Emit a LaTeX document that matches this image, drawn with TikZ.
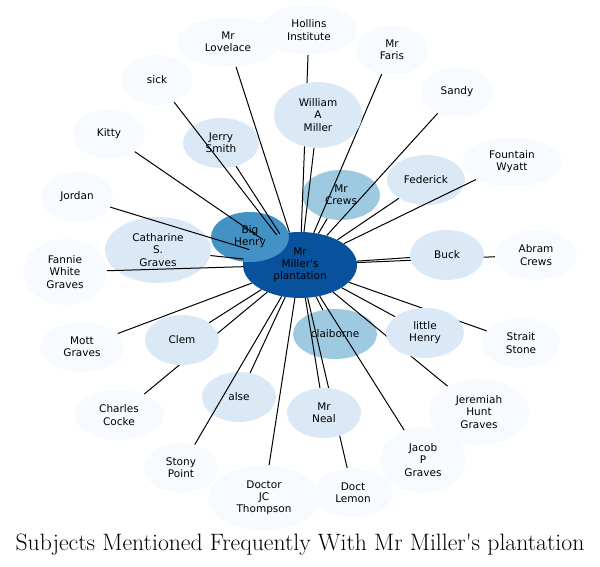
\documentclass[tikz,border=0pt]{standalone}
\usepackage{fontspec}
\setsansfont{DejaVu Sans}
\usepackage{xcolor}
\usepackage{tikz}
\usetikzlibrary{shapes.geometric}
\definecolor{tone0}{HTML}{F7FBFF}
\definecolor{tone1}{HTML}{DBE9F6}
\definecolor{tone2}{HTML}{9ECAE1}
\definecolor{tone3}{HTML}{4292C6}
\definecolor{tone4}{HTML}{08519C}
\pgfdeclarelayer{back}
\pgfdeclarelayer{front}
\pgfsetlayers{back,main,front}
\tikzset{
  subj/.style={ellipse, align=center, inner sep=0pt, text=black,
               font=\sffamily\fontsize{10.5}{12.2}\selectfont,
               minimum width=72pt, minimum height=50pt},
  tall/.style={minimum height=66pt},
  far/.style={subj, fill=tone0},
  near/.style={subj, fill=tone1},
  mid/.style={subj, fill=tone2},
  strong/.style={subj, fill=tone3},
  hub/.style={subj, fill=tone4, minimum width=114pt, minimum height=66pt},
  link/.style={line width=1pt, black}
}

\begin{document}
\begin{tikzpicture}[x=1pt,y=-1pt]
  \useasboundingbox (0,0) rectangle (600,567);
  \begin{pgfonlayer}{back}
  \node[hub] (plant) at (300,265) {Mr\\Miller\textquotesingle s\\plantation};
  \node[far, minimum width=96pt] (hollins) at (309,30) {Hollins\\Institute};
  \node[far, minimum width=102pt] (lovelace) at (228,42) {Mr\\Lovelace};
  \node[far] (faris) at (392,50) {Mr\\Faris};
  \node[far] (sandy) at (457,92) {Sandy};
  \node[far] (sick) at (157,80) {sick};
  \node[near, minimum width=76pt] (jerry) at (221,143) {Jerry\\Smith};
  \node[far] (kitty) at (109,134) {Kitty};
  \node[far] (jordan) at (77,197) {Jordan};
  \node[near, tall, minimum width=106pt] (catharine) at (158,250) {Catharine\\S.\\Graves};
  \node[strong, minimum width=78pt] (bighenry) at (250,237) {Big\\Henry};
  \node[far, tall, minimum width=84pt] (fannie) at (65,272) {Fannie\\White\\Graves};
  \node[mid, minimum width=78pt] (crews) at (341,195) {Mr\\Crews};
  \node[near, minimum width=78pt] (federick) at (426,180) {Federick};
  \node[far, minimum width=100pt] (fountain) at (512,162) {Fountain\\Wyatt};
  \node[far, minimum width=82pt] (abram) at (536,255) {Abram\\Crews};
  \node[far, minimum width=84pt] (mott) at (82,347) {Mott\\Graves};
  \node[far, minimum width=90pt] (charles) at (119,415) {Charles\\Cocke};
  \node[near, minimum width=74pt] (alse) at (239,397) {alse};
  \node[far, minimum width=74pt] (stony) at (181,468) {Stony\\Point};
  \node[far, tall, minimum width=112pt] (thompson) at (264,498) {Doctor\\JC\\Thompson};
  \node[mid, minimum width=84pt] (claiborne) at (335,334) {claiborne};
  \node[far, minimum width=78pt] (strait) at (521,343) {Strait\\Stone};
  \node[far, tall, minimum width=100pt] (jeremiah) at (479,412) {Jeremiah\\Hunt\\Graves};
  \node[far, tall, minimum width=86pt] (jacob) at (423,460) {Jacob\\P\\Graves};
  \node[far, minimum width=80pt] (lemon) at (353,493) {Doct\\Lemon};
  \end{pgfonlayer}
  \begin{pgfonlayer}{front}
  \node[near, tall, minimum width=88pt] (william) at (318,115) {William\\A\\Miller};
  \node[near, minimum width=74pt] (buck) at (447,255) {Buck};
  \node[near, minimum width=74pt] (clem) at (182,340) {Clem};
  \node[near, minimum width=78pt] (littlehenry) at (425,333) {little\\Henry};
  \node[near, minimum width=74pt] (neal) at (324,413) {Mr\\Neal};
  \end{pgfonlayer}
  \draw[link] (plant) -- (hollins);
  \draw[link] (plant) -- (lovelace);
  \draw[link] (plant) -- (faris);
  \draw[link] (plant) -- (sandy);
  \draw[link] (plant) -- (sick);
  \draw[link] (plant) -- (william);
  \draw[link] (plant) -- (jerry);
  \draw[link] (plant) -- (kitty);
  \draw[link] (plant) -- (jordan);
  \draw[link] (plant) -- (catharine);
  \draw[link] (plant) -- (fannie);
  \draw[link] (plant) -- (crews);
  \draw[link] (plant) -- (federick);
  \draw[link] (plant) -- (fountain);
  \draw[link] (plant) -- (buck);
  \draw[link] (plant) -- (abram);
  \draw[link] (plant) -- (mott);
  \draw[link] (plant) -- (clem);
  \draw[link] (plant) -- (charles);
  \draw[link] (plant) -- (alse);
  \draw[link] (plant) -- (stony);
  \draw[link] (plant) -- (thompson);
  \draw[link] (plant) -- (claiborne);
  \draw[link] (plant) -- (littlehenry);
  \draw[link] (plant) -- (strait);
  \draw[link] (plant) -- (neal);
  \draw[link] (plant) -- (jeremiah);
  \draw[link] (plant) -- (jacob);
  \draw[link] (plant) -- (lemon);
  \node[font=\fontsize{23.7}{26}\selectfont] (title) at (300,545) {Subjects Mentioned Frequently With Mr Miller\textquotesingle s plantation};
\end{tikzpicture}
\end{document}
